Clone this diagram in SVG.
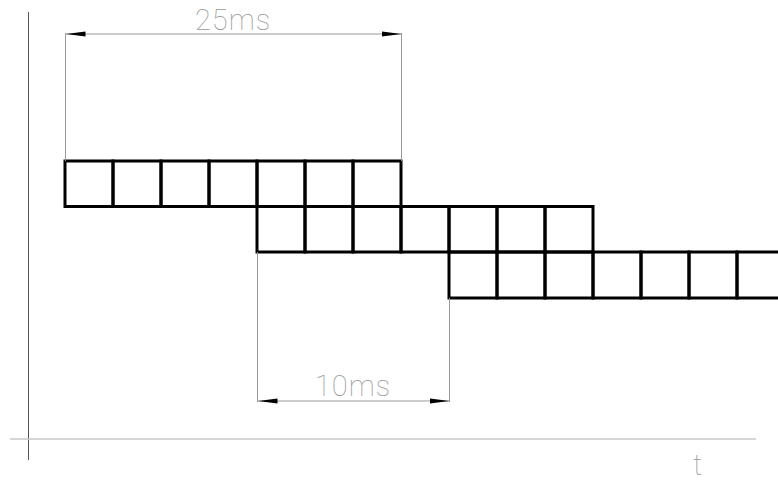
<svg xmlns="http://www.w3.org/2000/svg" width="778" height="482" viewBox="0 0 778 482">
<style>
.cell{fill:none;stroke:#000;stroke-width:3;stroke-linejoin:miter}
.dim{stroke:#999;stroke-width:1;fill:none}
.axis{stroke:#555;stroke-width:1;fill:none}
.axisx{stroke:#c8c8c8;stroke-width:1.6;fill:none}
.lbl{font-family:Roboto,"Liberation Sans",sans-serif;font-weight:100;fill:#999;font-size:29px;letter-spacing:1px}
</style>
<defs>
<marker id="arr" viewBox="0 0 20 6" refX="20" refY="3" markerWidth="20" markerHeight="6" markerUnits="userSpaceOnUse" orient="auto-start-reverse">
<path d="M0,0.5 L20,3 L0,5.5 Z" fill="#000"/>
</marker>
</defs>
<g id="axes">
<line class="axis" x1="28.5" y1="12" x2="28.5" y2="460"/>
<line class="axisx" x1="10" y1="439" x2="756" y2="439"/>
<text class="lbl" x="693" y="475" font-size="25">t</text>
</g>
<g id="row1">
<rect class="cell" x="65" y="161" width="48" height="45.5"/>
<rect class="cell" x="113" y="161" width="48" height="45.5"/>
<rect class="cell" x="161" y="161" width="48" height="45.5"/>
<rect class="cell" x="209" y="161" width="48" height="45.5"/>
<rect class="cell" x="257" y="161" width="48" height="45.5"/>
<rect class="cell" x="305" y="161" width="48" height="45.5"/>
<rect class="cell" x="353" y="161" width="48" height="45.5"/>
</g>
<g id="row2">
<rect class="cell" x="257" y="206.5" width="48" height="45.5"/>
<rect class="cell" x="305" y="206.5" width="48" height="45.5"/>
<rect class="cell" x="353" y="206.5" width="48" height="45.5"/>
<rect class="cell" x="401" y="206.5" width="48" height="45.5"/>
<rect class="cell" x="449" y="206.5" width="48" height="45.5"/>
<rect class="cell" x="497" y="206.5" width="48" height="45.5"/>
<rect class="cell" x="545" y="206.5" width="48" height="45.5"/>
</g>
<g id="row3">
<rect class="cell" x="449" y="252" width="48" height="46"/>
<rect class="cell" x="497" y="252" width="48" height="46"/>
<rect class="cell" x="545" y="252" width="48" height="46"/>
<rect class="cell" x="593" y="252" width="48" height="46"/>
<rect class="cell" x="641" y="252" width="48" height="46"/>
<rect class="cell" x="689" y="252" width="48" height="46"/>
<rect class="cell" x="737" y="252" width="48" height="46"/>
</g>
<g id="connectors">
<line class="dim" x1="65.5" y1="33" x2="65.5" y2="161"/>
<line class="dim" x1="401.5" y1="33" x2="401.5" y2="161"/>
<line class="dim" x1="65.5" y1="34" x2="401.5" y2="34" marker-start="url(#arr)" marker-end="url(#arr)"/>
<text class="lbl" x="233" y="30" text-anchor="middle">25ms</text>
<line class="dim" x1="257.5" y1="252" x2="257.5" y2="402"/>
<line class="dim" x1="449.5" y1="298" x2="449.5" y2="402"/>
<line class="dim" x1="257.5" y1="401" x2="449.5" y2="401" marker-start="url(#arr)" marker-end="url(#arr)"/>
<text class="lbl" x="353" y="396" text-anchor="middle">10ms</text>
</g>
</svg>
